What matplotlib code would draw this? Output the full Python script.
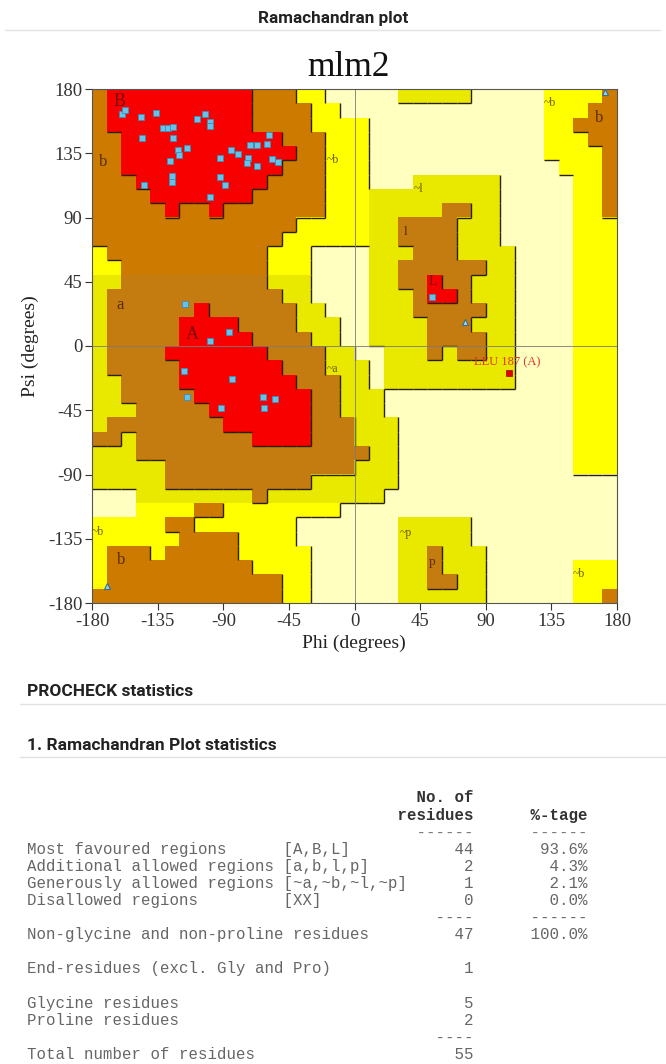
import numpy as np
import matplotlib
matplotlib.use("Agg")
import matplotlib.pyplot as plt
from matplotlib.colors import to_rgb
from matplotlib.collections import LineCollection
from matplotlib.lines import Line2D

plt.rcParams['axes.unicode_minus'] = False

# region map, 10 degree cells, row 0 = psi 170..180, col 0 = phi -180..-170
# R core, B/A allowed, Y/G generous, W disallowed
region_rows = [
    "BRRRRRRRRRRBBBYYWWWWWGGGGGWWWWWYYYYB",
    "BRRRRRRRRRRBBBBYYWWWWWWWWWWWWWWYYYBB",
    "BRRRRRRRRRRBBBBYYYYWWWWWWWWWWWWYYBBB",
    "BBRRRRRRRRRRRBBBYYYWWWWWWWWWWWWYYYBB",
    "BBRRRRRRRRRRRRBBYYYWWWWWWWWWWWWYYYYB",
    "BBRRRRRRRRRRRBBBYYYWWWWWWWWWWWWWYYYB",
    "BBBRRRRRRRRRBBBBYYYWWWGGGGGGWWWWWYYB",
    "BBBBRRRRRRRBBBBBYYYGGGGGGGGGWWWWWYYB",
    "BBBBBRBBRBBBBBBBYYYGGGGGAAGGWWWWWYYB",
    "BBBBBBBBBBBBBBYYYYYGGAAAAGGGWWWWWYYY",
    "BBBBBBBBBBBBBYYYYYYGGAAAAGGGWWWWWYYY",
    "YBBBBBBBBBBBYYYWWWWGGGAAAGGGGWWWWYYY",
    "YYBBBBBBBBBBYYYWWWWGGAAAAAAGGWWWWYYY",
    "GGAAAAAAAAAAGGGWWWWGGAARAAGGGWWWWYYY",
    "GAAAAAAAAAAAAGGWWWWGGGARRAGGGWWWWYYY",
    "GAAAAAARAAAAAAGGWWWGGGAAAAAGGWWWWYYY",
    "GAAAAARRRRAAAAGGGWWGGGGAAAGGGWWWWYYY",
    "GAAAAARRRRRAAAAGGWWGGGGAAAAGGWWWWYYY",
    "GAAAARRRRRRRAAAAGGWWGGGAGAAGGWWWWYYY",
    "GAAAAARRRRRRRAAAGGGWGGGGGGGGGWWWWYYY",
    "GGAAAARRRRRRRRAAAGGWGGGGGGGGGWWWWYYY",
    "GGAAAAARRRRRRRRAAGGGWWWWWWWWWWWWWYYY",
    "GGGAAAAARRRRRRRAAGGGWWWWWWWWWWWWWYYY",
    "GAAAAAAAARRRRRRAAAGGGWWWWWWWWWWWWYYY",
    "AAGAAAAAAAARRRRAAAGGGWWWWWWWWWWWWYYY",
    "GGGAAAAAAAAAAAAAAAAGGWWWWWWWWWWWWYYY",
    "GGGGGAAAAAAAAAAAAAGGGWWWWWWWWWWWWYYY",
    "GGGGGAAAAAAAAAAGGGGGGWWWWWWWWWWWWWWW",
    "WWWGGGGGGGGAGGGGGGGGWWWWWWWWWWWWWWWW",
    "WWWYYYYBBYYYYYYYYWWWWWWWWWWWWWWWWWWW",
    "YYYYYBBYYYYYYYWWWWWWWGGGGGWWWWWWWWWW",
    "YYYYYYBBBBYYYYWWWWWWWGGGGGWWWWWWWWWW",
    "YBBBYBBBBBYYYYYWWWWWWGGAGGGWWWWWWWWW",
    "YBBBBBBBBBBYYYYWWWWWWGGAGGGWWWWWWYYY",
    "YBBBBBBBBBBBBYYWWWWWWGGAAGGWWWWWWYYY",
    "BBBBBBBBBBBBBYYWWWWWWGGGGGGWWWWWWYYB",
]
region_colors = {"R": "#F80000", "B": "#CC7A00", "A": "#C47B10",
                 "Y": "#FFFF00", "G": "#E9E900", "W": "#FFFFC0"}
region_tier = {"W": 0, "Y": 1, "G": 1, "B": 2, "A": 2, "R": 3}

# residues (phi, psi)
res_phi = [-159.7, -157.3, -146.1, -136.1, -131.4, -127.9, -124.4, -145.4, -124.4,
           -121.1, -120.2, -114.6, -126.3, -125.1, -125.1, -144.5, -108.0, -102.4,
           -98.9, -98.9, -92.4, -92.4, -88.9, -98.9, -84.7, -80.0, -71.6, -66.9,
           -59.7, -58.5, -73.0, -73.9, -66.7, -56.6, -52.7,
           -116.2, -85.8, -99.1, -116.7, -83.8, -115.0, -91.6, -62.9, -54.5, -62.3,
           53.2]
res_psi = [162.7, 165.3, 160.6, 162.9, 152.4, 152.4, 153.1, 145.9, 145.9,
           137.0, 133.7, 138.4, 129.5, 119.3, 114.6, 112.7, 159.0, 162.5,
           156.6, 154.1, 131.9, 118.3, 112.7, 104.5, 137.0, 134.7, 140.7, 140.7,
           141.2, 147.8, 131.9, 128.4, 126.3, 130.9, 129.1,
           29.2, 9.6, 3.5, -17.5, -23.1, -35.5, -43.2, -35.9, -37.3, -43.2,
           34.2]
gly_phi = [171.6, 75.8, -169.5]
gly_psi = [178.1, 16.9, -168.2]
outlier_phi = [105.6]
outlier_psi = [-19.1]
outlier_name = ["LEU 187 (A)"]

# region labels
lab_text = ["B", "b", "~b", "~l", "l", "L", "a", "A", "~a", "~b", "b", "~b", "b", "~p", "p", "~b"]
lab_phi = [-161, -172, -15, 44, 35, 54, -161, -111, -15, 134, 168, -176, -160, 35, 53, 154]
lab_psi = [171, 129, 130, 110, 80, 45, 29, 8, -16, 170, 160, -130, -150, -131, -151, -160]

# statistics table
stat_labels = ["Most favoured regions      [A,B,L]",
               "Additional allowed regions [a,b,l,p]",
               "Generously allowed regions [~a,~b,~l,~p]",
               "Disallowed regions         [XX]"]
stat_counts = [44, 2, 1, 0]
stat_pcts = ["93.6%", "4.3%", "2.1%", "0.0%"]
nongly_count, nongly_pct = 47, "100.0%"
end_count = 1
gly_count, pro_count = 5, 2
total_count = 55

W, H = 666, 1064
fig = plt.figure(figsize=(W / 100, H / 100), dpi=100)
fig.patch.set_facecolor("white")


def fx(px):
    return px / W


def fy(py):
    return 1 - py / H


serif = "Liberation Serif"
sans = "Roboto"
mono = "Liberation Mono"

# page headers
fig.text(fx(333), fy(18), "Ramachandran plot", ha="center", va="center",
         family=sans, weight="bold", fontsize=12.3, color="#222222")
fig.add_artist(Line2D([fx(5), fx(660)], [fy(30), fy(30)], color="#e2e2e2", lw=1))

ax = fig.add_axes([fx(92), fy(603), fx(617) - fx(92), fy(89) - fy(603)])
rgb = np.array([[to_rgb(region_colors[ch]) for ch in row] for row in region_rows])
ax.imshow(rgb, extent=[-180, 180, -180, 180], origin="upper",
          interpolation="nearest", aspect="auto", zorder=0)

# shadow lines on bottom / right edges of higher regions
tiers = np.array([[region_tier[ch] for ch in row] for row in region_rows])
segs = []
for r in range(36):
    for c in range(36):
        x0 = -180 + 10 * c
        yt = 180 - 10 * r
        if r + 1 < 36 and tiers[r + 1, c] < tiers[r, c]:
            segs.append([(x0, yt - 10), (x0 + 10, yt - 10)])
        if c + 1 < 36 and tiers[r, c + 1] < tiers[r, c]:
            segs.append([(x0 + 10, yt), (x0 + 10, yt - 10)])
ax.add_collection(LineCollection(segs, colors="#2a2000", linewidths=1.0, zorder=1))

ax.axhline(0, color="#7a7a7a", lw=0.6, zorder=1)
ax.axvline(0, color="#7a7a7a", lw=0.6, zorder=1)

for t, x, y in zip(lab_text, lab_phi, lab_psi):
    if t in ("B", "A", "L"):
        col, fs = "#7a0c0c", 13 if t != "L" else 10
    elif t.startswith("~"):
        col, fs = "#6b5a00", 8.5
    else:
        col, fs = "#5a2d00", 12 if t in ("a", "b") else 9.5
    ax.text(x, y, t, family=serif, fontsize=fs, color=col, ha="center", va="center", zorder=2)

ax.plot(res_phi, res_psi, ls="none", marker="s", ms=4.3, mfc="#67c2ea",
        mec="#3d8db5", mew=0.6, zorder=3)
ax.plot(gly_phi, gly_psi, ls="none", marker="^", ms=4, mfc="#9fd3ea",
        mec="#2f6f8f", mew=0.8, zorder=3)
ax.plot(outlier_phi, outlier_psi, ls="none", marker="s", ms=4, mfc="#e00000",
        mec="#a00000", mew=0.5, zorder=3)
for x, y, name in zip(outlier_phi, outlier_psi, outlier_name):
    ax.text(x - 1, y + 7.5, name, family=serif, fontsize=9, color="#e03030",
            ha="center", va="center", zorder=3)

ax.set_xlim(-180, 180)
ax.set_ylim(-180, 180)
ticks = list(range(-180, 181, 45))
ax.set_xticks(ticks)
ax.set_yticks(ticks)
ax.set_xticklabels([str(t) for t in ticks], family=serif, fontsize=13.5)
ax.set_yticklabels([str(t) for t in ticks], family=serif, fontsize=13.5)
ax.tick_params(direction="out", length=5, width=0.8, colors="#333333", pad=2)
for sp in ax.spines.values():
    sp.set_linewidth(0.8)
    sp.set_color("#555555")

fig.text(fx(348), fy(68), "mlm2", ha="center", va="center", family=serif,
         fontsize=25.5, color="#111111")
fig.text(fx(354), fy(643), "Phi (degrees)", ha="center", va="center",
         family=serif, fontsize=14, color="#222222")
fig.text(fx(30), fy(346), "Psi (degrees)", ha="center", va="center",
         family=serif, fontsize=14, color="#222222", rotation=90)

# statistics section
fig.text(fx(27), fy(692), "PROCHECK statistics", ha="left", va="center",
         family=sans, weight="bold", fontsize=12.5, color="#222222")
fig.add_artist(Line2D([fx(20), fx(666)], [fy(704), fy(704)], color="#e2e2e2", lw=1))
fig.text(fx(27), fy(746), "1. Ramachandran Plot statistics", ha="left", va="center",
         family=sans, weight="bold", fontsize=12.5, color="#222222")
fig.add_artist(Line2D([fx(20), fx(666)], [fy(757), fy(757)], color="#e2e2e2", lw=1))

head_lines = [" " * 41 + "No. of",
              " " * 39 + "residues" + " " * 6 + "%-tage",
              " " * 41 + "------" + " " * 6 + "------"]
body_lines = []
for lab, n, p in zip(stat_labels, stat_counts, stat_pcts):
    body_lines.append(f"{lab:<41}{n:>6}{p:>12}")
body_lines.append(" " * 43 + "----" + " " * 6 + "------")
body_lines.append(f"{'Non-glycine and non-proline residues':<41}{nongly_count:>6}{nongly_pct:>12}")
body_lines.append("")
body_lines.append(f"{'End-residues (excl. Gly and Pro)':<41}{end_count:>6}")
body_lines.append("")
body_lines.append(f"{'Glycine residues':<41}{gly_count:>6}")
body_lines.append(f"{'Proline residues':<41}{pro_count:>6}")
body_lines.append(" " * 43 + "----")
body_lines.append(f"{'Total number of residues':<41}{total_count:>6}")

y0 = 798
for i, line in enumerate(head_lines):
    fig.text(fx(27), fy(y0 + 17.1 * i), line, ha="left", va="center", family=mono,
             fontsize=11.3, color="#333333" if i < 2 else "#777777",
             weight="bold" if i < 2 else "normal")
for i, line in enumerate(body_lines):
    fig.text(fx(27), fy(y0 + 17.1 * (i + 3)), line, ha="left", va="center",
             family=mono, fontsize=11.3, color="#666666")

fig.savefig("out.png", dpi=100)
